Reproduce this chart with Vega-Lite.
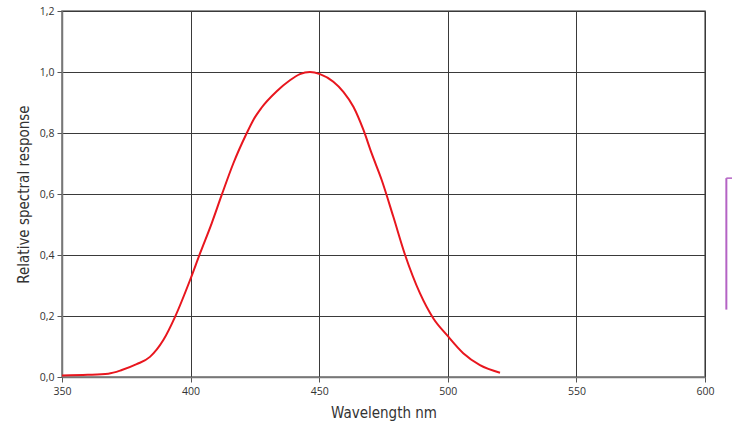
{
  "$schema": "https://vega.github.io/schema/vega-lite/v6.json",
  "autosize": "none",
  "width": 643,
  "height": 366,
  "padding": {"left": 62, "top": 11, "right": 27, "bottom": 51},
  "background": "white",
  "config": {
    "view": {"stroke": "#6f6f6f", "strokeWidth": 1.5},
    "axis": {
      "labelFont": "Open Sans",
      "labelFontSize": 10.5,
      "labelColor": "#333333",
      "labelFlush": false,
      "titleFont": "Liberation Sans Narrow, DejaVu Sans Condensed, sans-serif",
      "titleFontSize": 15,
      "titleFontWeight": "normal",
      "titleColor": "#333333",
      "gridColor": "#3a3a3a",
      "gridWidth": 1,
      "gridOpacity": 1,
      "domainColor": "#777777",
      "domainWidth": 1.5,
      "tickColor": "#555555",
      "tickSize": 5
    }
  },
  "datasets": {
    "curve": [
      {"wl": 350, "r": 0.005},
      {"wl": 360, "r": 0.007},
      {"wl": 368, "r": 0.011},
      {"wl": 373, "r": 0.022},
      {"wl": 379, "r": 0.042},
      {"wl": 384.2, "r": 0.066},
      {"wl": 389.4, "r": 0.121},
      {"wl": 394, "r": 0.198},
      {"wl": 399.8, "r": 0.318},
      {"wl": 403.7, "r": 0.406},
      {"wl": 408.2, "r": 0.504},
      {"wl": 412.1, "r": 0.597},
      {"wl": 416.6, "r": 0.70},
      {"wl": 421.8, "r": 0.799},
      {"wl": 424.4, "r": 0.843},
      {"wl": 427.5, "r": 0.882},
      {"wl": 433.5, "r": 0.937},
      {"wl": 438.5, "r": 0.972},
      {"wl": 442.5, "r": 0.993},
      {"wl": 446.4, "r": 1.0},
      {"wl": 450.3, "r": 0.993},
      {"wl": 455.5, "r": 0.968},
      {"wl": 459.4, "r": 0.935},
      {"wl": 463.3, "r": 0.886},
      {"wl": 467.2, "r": 0.81},
      {"wl": 470.4, "r": 0.733},
      {"wl": 474.3, "r": 0.646},
      {"wl": 478.8, "r": 0.526},
      {"wl": 483.4, "r": 0.40},
      {"wl": 489.2, "r": 0.274},
      {"wl": 494.4, "r": 0.192},
      {"wl": 499.6, "r": 0.138},
      {"wl": 506, "r": 0.078},
      {"wl": 512.5, "r": 0.039},
      {"wl": 520.3, "r": 0.014}
    ],
    "bracketV": [
      {"x": 608.3, "y1": 0.221, "y2": 0.652}
    ],
    "bracketH": [
      {"x1": 608.3, "x2": 610.6, "y": 0.652}
    ]
  },
  "layer": [
    {
      "data": {"name": "curve"},
      "mark": {"type": "line", "color": "#e8161e", "strokeWidth": 2, "interpolate": "monotone"},
      "encoding": {
        "x": {
          "field": "wl", "type": "quantitative",
          "scale": {"domain": [350, 600], "nice": false, "zero": false},
          "axis": {"values": [350, 400, 450, 500, 550, 600], "title": "Wavelength nm", "titlePadding": 9, "labelPadding": 4}
        },
        "y": {
          "field": "r", "type": "quantitative",
          "scale": {"domain": [0, 1.2], "nice": false},
          "axis": {
            "values": [0, 0.2, 0.4, 0.6, 0.8, 1.0, 1.2],
            "labelExpr": "replace(format(datum.value, '.1f'), '.', ',')",
            "title": "Relative spectral response",
            "titlePadding": 8,
            "labelPadding": 3
          }
        }
      }
    },
    {
      "data": {"name": "bracketV"},
      "mark": {"type": "rule", "color": "#b463c4", "strokeWidth": 2, "clip": false},
      "encoding": {
        "x": {"field": "x", "type": "quantitative"},
        "y": {"field": "y1", "type": "quantitative"},
        "y2": {"field": "y2"}
      }
    },
    {
      "data": {"name": "bracketH"},
      "mark": {"type": "rule", "color": "#b463c4", "strokeWidth": 1.5, "clip": false},
      "encoding": {
        "x": {"field": "x1", "type": "quantitative"},
        "x2": {"field": "x2"},
        "y": {"field": "y", "type": "quantitative"}
      }
    }
  ]
}
